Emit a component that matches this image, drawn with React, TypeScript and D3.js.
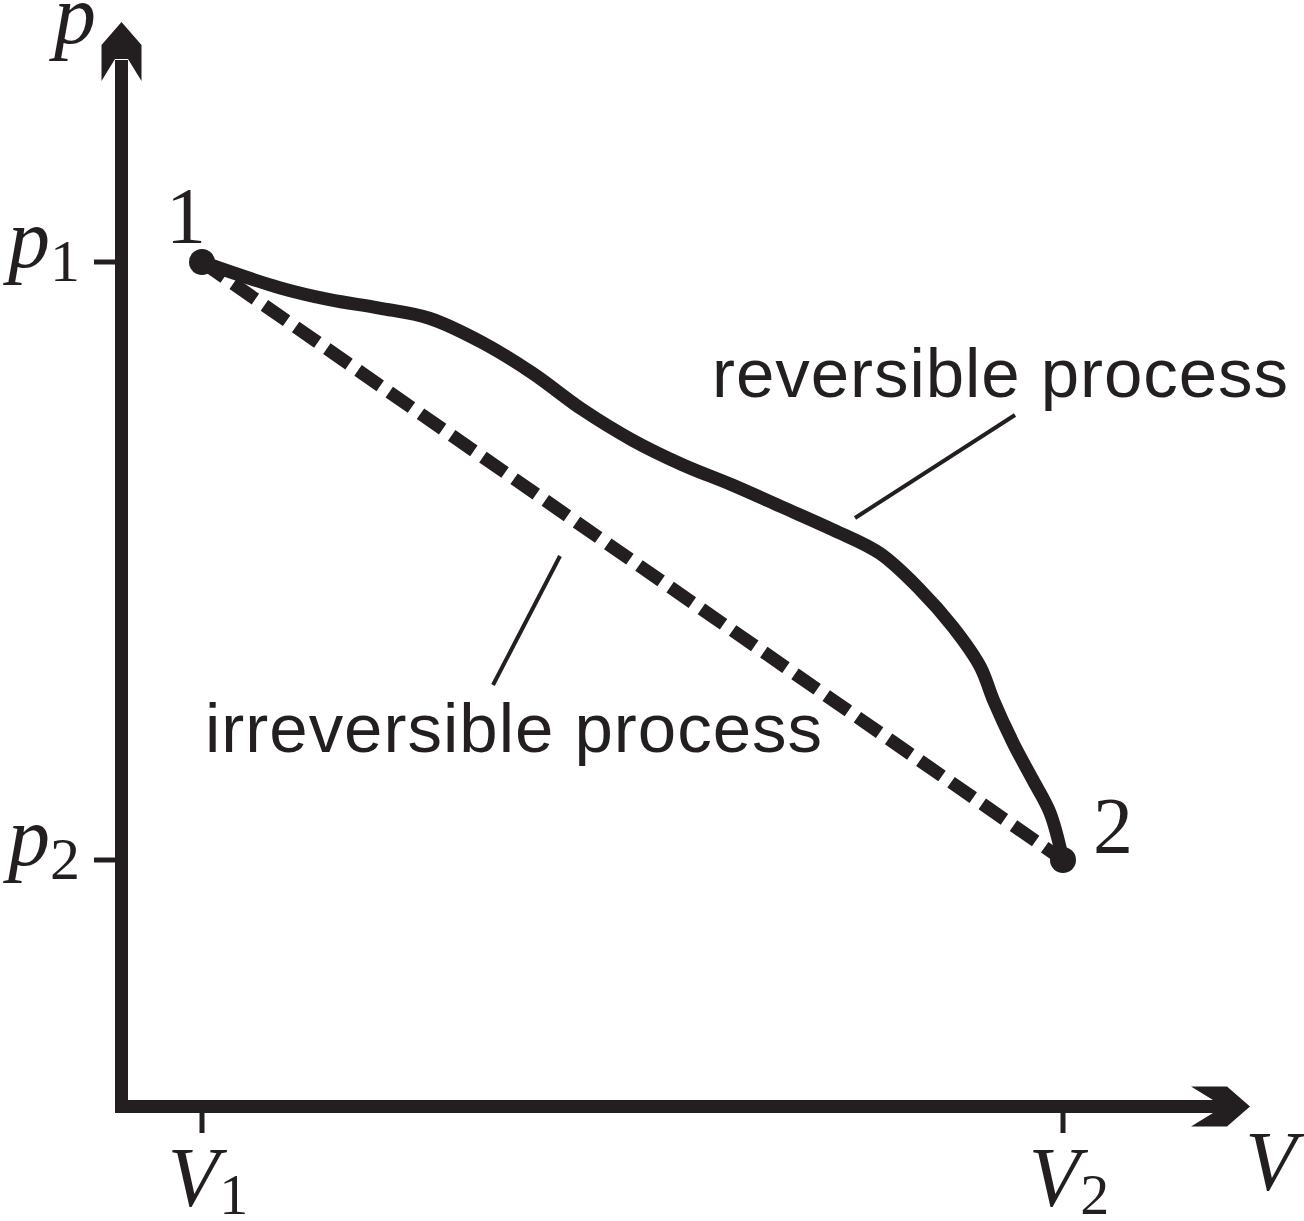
import React from 'react';
import * as d3 from 'd3';

// reversible path (V normalised so V1 = 0, V2 = 1; p so p2 = 0, p1 = 1)
const reversibleV = [0, 0.09, 0.148, 0.206, 0.264, 0.326, 0.384, 0.442, 0.5, 0.558, 0.616, 0.674, 0.733, 0.787, 0.834, 0.872, 0.904, 0.919, 0.942, 0.965, 0.985, 1];
const reversibleP = [1, 0.957, 0.937, 0.923, 0.906, 0.865, 0.814, 0.753, 0.702, 0.661, 0.627, 0.59, 0.552, 0.513, 0.452, 0.39, 0.323, 0.268, 0.196, 0.134, 0.079, 0];

// irreversible path: straight from state 1 to state 2
const irreversibleV = [0, 1];
const irreversibleP = [1, 0];

// end states
const stateLabels = ['1', '2'];
const stateV = [0, 1];
const stateP = [1, 0];

// ticks
const pTickValues = [1, 0];
const pTickSubs = ['1', '2'];
const vTickValues = [0, 1];
const vTickSubs = ['1', '2'];

const ink = '#231f20';
const serif = '"Liberation Serif", "DejaVu Serif", serif';
const sans = '"Liberation Sans", Arial, Helvetica, sans-serif';

export default function App() {
    const width = 1304;
    const height = 1221;

    // scales
    const x = d3.scaleLinear().domain([0, 1]).range([202, 1063]);
    const y = d3.scaleLinear().domain([0, 1]).range([860, 262]);

    // axes frame
    const axisX = 121.5;
    const axisY = 1106.5;
    const yTip = 22;
    const xTip = 1250;

    const line = d3.line<[number, number]>()
        .x(d => x(d[0]))
        .y(d => y(d[1]))
        .curve(d3.curveCatmullRom.alpha(0.5));

    const revPath = line(reversibleV.map((v, i) => [v, reversibleP[i]] as [number, number])) || '';
    const irrPath = d3.line<[number, number]>()
        .x(d => x(d[0]))
        .y(d => y(d[1]))(irreversibleV.map((v, i) => [v, irreversibleP[i]] as [number, number])) || '';

    // arrow head pointing +x, tip at origin
    const arrow = 'M0,0 L-23,-20 L-59,-20 L-37,-6.5 L-37,6.5 L-59,20 L-23,20 Z';

    return (
        <svg width={width} height={height} style={{ position: 'absolute', left: 0, top: 0, background: '#fff' }}>
            {/* axes */}
            <path d={`M${axisX},${yTip + 38} V${axisY} H${xTip - 36}`}
                fill="none" stroke={ink} strokeWidth={13} strokeLinejoin="miter" />
            <path d={arrow} fill={ink} transform={`translate(${axisX},${yTip}) rotate(-90)`} />
            <path d={arrow} fill={ink} transform={`translate(${xTip},${axisY})`} />

            {/* p ticks */}
            {pTickValues.map((v, i) => (
                <g key={'p' + i}>
                    <line x1={94} x2={axisX} y1={y(v)} y2={y(v)} stroke={ink} strokeWidth={5} />
                    <text x={80} y={y(v) + 5} textAnchor="end" fontFamily={serif} fontSize={84} fill={ink}>
                        <tspan fontStyle="italic">p</tspan>
                        <tspan fontSize={60} dy={14}>{pTickSubs[i]}</tspan>
                    </text>
                </g>
            ))}

            {/* V ticks */}
            {vTickValues.map((v, i) => (
                <g key={'v' + i}>
                    <line x1={x(v)} x2={x(v)} y1={axisY} y2={1133} stroke={ink} strokeWidth={5} />
                    <text x={x(v) + 6} y={1206} textAnchor="middle" fontFamily={serif} fontSize={84} fill={ink}>
                        <tspan fontStyle="italic">V</tspan>
                        <tspan fontSize={58} dy={8}>{vTickSubs[i]}</tspan>
                    </text>
                </g>
            ))}

            {/* axis titles */}
            <text x={75} y={43} textAnchor="middle" fontFamily={serif} fontStyle="italic" fontSize={84} fill={ink}>p</text>
            <text x={1271} y={1190} textAnchor="middle" fontFamily={serif} fontStyle="italic" fontSize={84} fill={ink}>V</text>

            {/* processes */}
            <path d={irrPath} fill="none" stroke={ink} strokeWidth={13} strokeDasharray="27 11" />
            <path d={revPath} fill="none" stroke={ink} strokeWidth={13} strokeLinecap="round" strokeLinejoin="round" />

            {/* end states */}
            {stateLabels.map((s, i) => (
                <circle key={'c' + s} cx={x(stateV[i])} cy={y(stateP[i])} r={13} fill={ink} />
            ))}
            <text x={186} y={243} textAnchor="middle" fontFamily={serif} fontSize={80} fill={ink}>{stateLabels[0]}</text>
            <text x={1113} y={853} textAnchor="middle" fontFamily={serif} fontSize={80} fill={ink}>{stateLabels[1]}</text>

            {/* annotations */}
            <line x1={855} y1={518} x2={1015} y2={415} stroke={ink} strokeWidth={4} />
            <text x={712} y={397} fontFamily={sans} fontSize={69} fill={ink} textLength={576} lengthAdjust="spacing">reversible process</text>
            <line x1={560} y1={556} x2={493} y2={685} stroke={ink} strokeWidth={4} />
            <text x={205} y={752} fontFamily={sans} fontSize={69} fill={ink} textLength={617} lengthAdjust="spacing">irreversible process</text>
        </svg>
    );
}
